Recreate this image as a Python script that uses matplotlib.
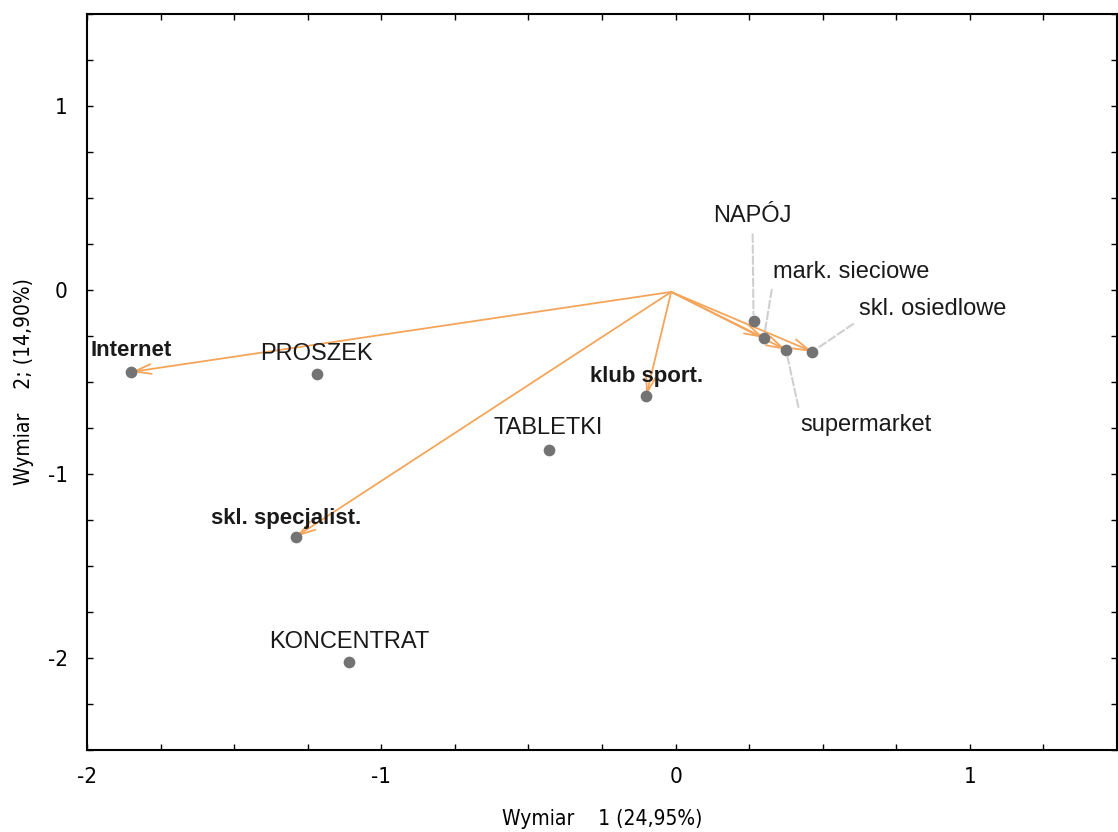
import matplotlib.pyplot as plt
from matplotlib.ticker import MultipleLocator

# Coordinates of categories in the first two dimensions
product_names = ['PROSZEK', 'TABLETKI', 'KONCENTRAT', 'NAPÓJ']
product_x = [-1.22, -0.43, -1.11, 0.265]
product_y = [-0.455, -0.87, -2.02, -0.17]

place_names = ['Internet', 'skl. specjalist.', 'klub sport.', 'mark. sieciowe',
               'supermarket', 'skl. osiedlowe']
place_x = [-1.85, -1.29, -0.10, 0.30, 0.375, 0.465]
place_y = [-0.445, -1.34, -0.575, -0.26, -0.325, -0.335]

origin = (-0.015, -0.01)

# label placement (pixels from the point), alignment, weight, leader line
label_style = {
    'PROSZEK': ((0, 20), 'center', 'normal', None),
    'TABLETKI': ((-1, 22), 'center', 'normal', None),
    'KONCENTRAT': ((0, 20), 'center', 'normal', None),
    'NAPÓJ': ((-1, 105), 'center', 'normal', (0.5, 0)),
    'Internet': ((0, 21), 'center', 'bold', None),
    'skl. specjalist.': ((-10, 18), 'center', 'bold', None),
    'klub sport.': ((0, 19), 'center', 'bold', None),
    'mark. sieciowe': ((9, 66), 'left', 'normal', (0, 0)),
    'supermarket': ((14, -75), 'left', 'normal', (0, 1)),
    'skl. osiedlowe': ((47, 43), 'left', 'normal', (0, 0)),
}

plt.rcParams['font.family'] = ['Liberation Sans', 'DejaVu Sans']
plt.rcParams['axes.unicode_minus'] = False

fig = plt.figure(figsize=(11.18, 8.32), dpi=100)
ax = fig.add_axes([0.078, 0.0986, 0.921, 0.8844])

for x, y in zip(place_x, place_y):
    ax.annotate('', xy=(x, y), xytext=origin,
                arrowprops=dict(arrowstyle='->,head_length=1.2,head_width=0.35',
                                color='#f5a55a', lw=1.3, shrinkA=0, shrinkB=0))

all_names = product_names + place_names
all_x = product_x + place_x
all_y = product_y + place_y
ax.scatter(all_x, all_y, s=55, color='#737373', zorder=3)

for name, x, y in zip(all_names, all_x, all_y):
    off, ha, weight, rel = label_style[name]
    size = 16 if weight == 'bold' else 17
    props = None
    if rel is not None:
        props = dict(arrowstyle='-', linestyle='--', color='#cfcfcf', lw=1.5,
                     relpos=rel, shrinkA=3, shrinkB=5)
    ax.annotate(name, xy=(x, y), xytext=off, textcoords='offset pixels',
                ha=ha, va='center', fontsize=size, fontweight=weight,
                color='#1a1a1a', arrowprops=props, zorder=4)

ax.set_xlim(-2, 1.5)
ax.set_ylim(-2.5, 1.5)
ax.xaxis.set_major_locator(MultipleLocator(1))
ax.yaxis.set_major_locator(MultipleLocator(1))
ax.xaxis.set_minor_locator(MultipleLocator(0.25))
ax.yaxis.set_minor_locator(MultipleLocator(0.25))
ax.tick_params(which='both', direction='in', top=True, right=True,
               length=4, width=1, labelsize=16)
ax.xaxis.set_tick_params(pad=12)
ax.yaxis.set_tick_params(pad=14)
for lab in ax.get_xticklabels() + ax.get_yticklabels():
    lab.set_family('DejaVu Sans')
    lab.set_stretch('condensed')
for s in ax.spines.values():
    s.set_linewidth(1.5)

xl = ax.set_xlabel('Wymiar    1 (24,95%)', fontsize=15, labelpad=16)
yl = ax.set_ylabel('Wymiar    2; (14,90%)', fontsize=15, labelpad=10)
for t in (xl, yl):
    t.set_family('DejaVu Sans')
    t.set_stretch('condensed')

fig.savefig('out.png', dpi=100)
